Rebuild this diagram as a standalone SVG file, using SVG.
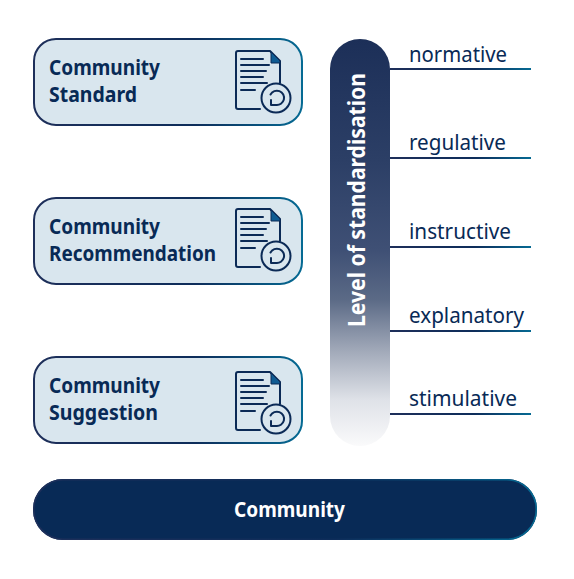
<svg xmlns="http://www.w3.org/2000/svg" width="574" height="579" viewBox="0 0 574 579">
<style>
text{font-family:"Noto Sans","Open Sans","Liberation Sans",sans-serif}
.t{font-size:21.500px;font-weight:700;fill:#082a56}
.l{font-size:21px;fill:#082a56}
.box{fill:#d9e6ee;stroke:url(#edge);stroke-width:2}
.ic{fill:none;stroke:#0b2a56;stroke-width:2;stroke-linecap:round;stroke-linejoin:round}
</style>
<defs>
<linearGradient id="edge" x1="0" y1="0" x2="1" y2="0"><stop offset="0" stop-color="#1e2f5a"/><stop offset=".6" stop-color="#0e2d5a"/><stop offset="1" stop-color="#056a93"/></linearGradient>
<linearGradient id="fade" x1="0" y1="0" x2="0" y2="1"><stop offset="0" stop-color="#1c2f58"/><stop offset=".3" stop-color="#2c3f66"/><stop offset=".52" stop-color="#3f5075"/><stop offset=".64" stop-color="#5b6a86"/><stop offset=".764" stop-color="#a0a8b8"/><stop offset=".887" stop-color="#dfe2e8"/><stop offset="1" stop-color="#fafafb"/></linearGradient>
<g id="doc">
<path class="ic" d="M34 0L44 10V32M24 58H2Q0 58 0 56V2Q0 0 2 0H34"/>
<path d="M35 1L44 10V12H35Z" fill="#0f5b92" stroke="#0b2a56" stroke-width="1"/>
<path class="ic" d="M5 8H27M5 14H33M5 20H30M5 26H27M5 32H31M5 39H19"/>
<circle cx="40" cy="47" r="14.500" fill="#d9e6ee" stroke="#0b2a56" stroke-width="2"/>
<path class="ic" d="M34.500 43.500A7.200 7.200 0 1 1 40 54H35M35 49V54"/>
</g>
</defs>
<g id="connectors">
<rect x="390" y="68" width="141" height="2" fill="url(#edge)"/>
<rect x="390" y="157" width="141" height="2" fill="url(#edge)"/>
<rect x="390" y="246" width="141" height="2" fill="url(#edge)"/>
<rect x="390" y="330" width="141" height="2" fill="url(#edge)"/>
<rect x="390" y="413" width="141" height="2" fill="url(#edge)"/>
</g>
<g id="standard"><rect class="box" x="34" y="39" width="268" height="86" rx="22"/><text class="t" x="49" y="75" textLength="111" lengthAdjust="spacingAndGlyphs">Community</text><text class="t" x="49" y="102" textLength="88" lengthAdjust="spacingAndGlyphs">Standard</text><use href="#doc" x="236" y="51"/></g>
<g id="recommendation"><rect class="box" x="34" y="198" width="268" height="86" rx="22"/><text class="t" x="49" y="234" textLength="111" lengthAdjust="spacingAndGlyphs">Community</text><text class="t" x="49" y="261" textLength="167" lengthAdjust="spacingAndGlyphs">Recommendation</text><use href="#doc" x="236" y="209"/></g>
<g id="suggestion"><rect class="box" x="34" y="357" width="268" height="86" rx="22"/><text class="t" x="49" y="393" textLength="111" lengthAdjust="spacingAndGlyphs">Community</text><text class="t" x="49" y="420" textLength="109" lengthAdjust="spacingAndGlyphs">Suggestion</text><use href="#doc" x="236" y="372"/></g>
<g id="level"><rect x="330" y="39" width="60" height="407" rx="30" fill="url(#fade)"/><text transform="translate(365 327) rotate(-90)" font-size="23" font-weight="700" fill="#fff" textLength="254" lengthAdjust="spacingAndGlyphs">Level of standardisation</text></g>
<g id="labels">
<text class="l" x="409" y="62" textLength="98" lengthAdjust="spacingAndGlyphs">normative</text>
<text class="l" x="409" y="150" textLength="97" lengthAdjust="spacingAndGlyphs">regulative</text>
<text class="l" x="409" y="239" textLength="102" lengthAdjust="spacingAndGlyphs">instructive</text>
<text class="l" x="409" y="323" textLength="115" lengthAdjust="spacingAndGlyphs">explanatory</text>
<text class="l" x="409" y="406" textLength="108" lengthAdjust="spacingAndGlyphs">stimulative</text>
</g>
<g id="community"><rect x="33" y="479" width="504" height="61" rx="30" fill="#082a56"/><rect x="33.750" y="479.750" width="502.500" height="59.500" rx="29.500" fill="none" stroke="url(#edge)" stroke-width="1.500"/><text x="234" y="517" font-size="21.500" font-weight="700" fill="#fff" textLength="111" lengthAdjust="spacingAndGlyphs">Community</text></g>
</svg>
